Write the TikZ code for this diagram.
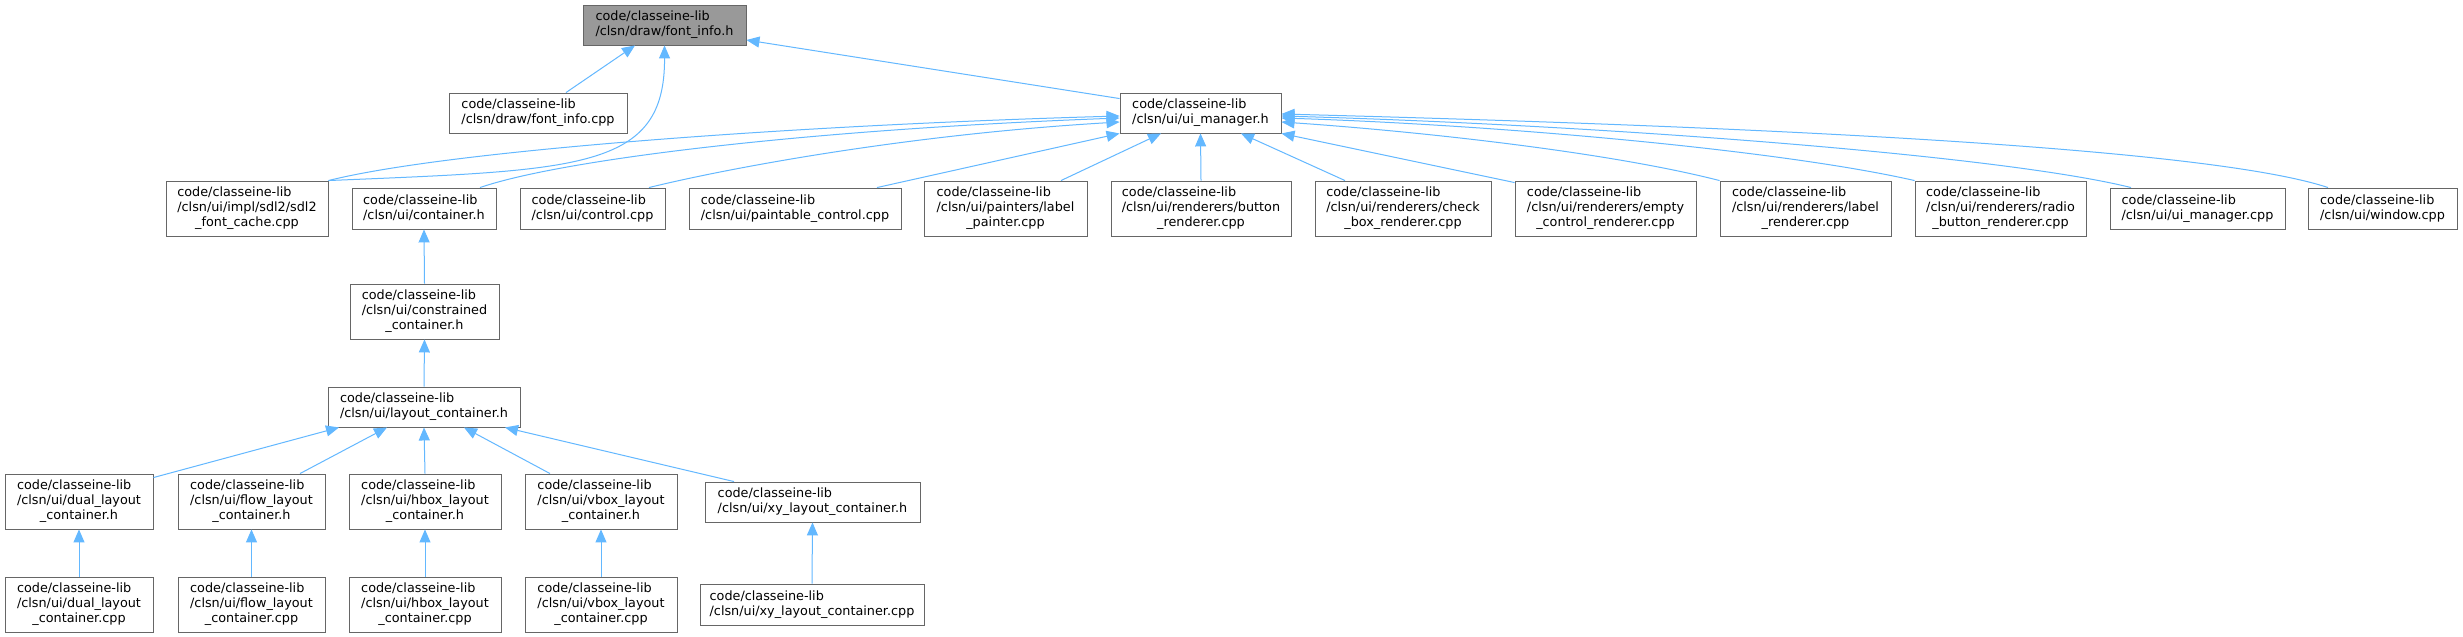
\documentclass[tikz,border=0pt]{standalone}
\usepackage{fontspec}
\setmainfont{DejaVu Sans}
\usetikzlibrary{arrows.meta}
\definecolor{edgeblue}{HTML}{63B8FF}
\definecolor{boxline}{HTML}{666666}
\definecolor{boxgray}{HTML}{999999}
% labels: first line is always the library path
\newcommand{\twolbl}[1]{\begin{tabular}{@{}l@{}}code/classeine-lib\\#1\end{tabular}}
\newcommand{\threelbl}[2]{\begin{tabular}{@{}l@{}}code/classeine-lib\\#1\\\multicolumn{1}{@{}c@{}}{#2}\end{tabular}}

\begin{document}
\begin{tikzpicture}[x=1pt,y=1pt,
    file/.style={rectangle, draw=boxline, line width=0.9pt, fill=white, inner sep=0pt,
                 font=\fontsize{12.8}{15}\selectfont, minimum height=40pt},
    tall/.style={minimum height=55pt},
    cur/.style={fill=boxgray},
    dep/.style={draw=edgeblue, line width=1pt, -{Triangle[length=13pt,width=11pt]}}]
\fill[white] (0,0) rectangle (2463,-637);
\useasboundingbox (0,0) rectangle (2463,-637);

% Text Node
\node (fih) [file, cur, minimum width=163pt] at (664.5,-25) {\twolbl{/clsn/draw/font\_info.h}};
% Text Node
\node (ficpp) [file, minimum width=178pt] at (538,-113) {\twolbl{/clsn/draw/font\_info.cpp}};
% Text Node
\node (uimh) [file, minimum width=161pt] at (1200.5,-113) {\twolbl{/clsn/ui/ui\_manager.h}};

% Text Node
\node (sdl) [file, tall, minimum width=162pt] at (247,-208.5) {\threelbl{/clsn/ui/impl/sdl2/sdl2}{\_font\_cache.cpp}};
% Text Node
\node (cont) [file, minimum width=144pt, minimum height=41pt] at (424,-208.5) {\twolbl{/clsn/ui/container.h}};
% Text Node
\node (ctrl) [file, minimum width=145pt, minimum height=41pt] at (592.5,-208.5) {\twolbl{/clsn/ui/control.cpp}};
% Text Node
\node (paint) [file, minimum width=212pt, minimum height=41pt] at (795,-208.5) {\twolbl{/clsn/ui/paintable\_control.cpp}};
% Text Node
\node (lpaint) [file, tall, minimum width=163pt] at (1005.5,-208.5) {\threelbl{/clsn/ui/painters/label}{\_painter.cpp}};
% Text Node
\node (btn) [file, tall, minimum width=180pt] at (1201,-208.5) {\threelbl{/clsn/ui/renderers/button}{\_renderer.cpp}};
% Text Node
\node (chk) [file, tall, minimum width=176pt] at (1403,-208.5) {\threelbl{/clsn/ui/renderers/check}{\_box\_renderer.cpp}};
% Text Node
\node (empty) [file, tall, minimum width=181pt] at (1605.5,-208.5) {\threelbl{/clsn/ui/renderers/empty}{\_control\_renderer.cpp}};
% Text Node
\node (lrend) [file, tall, minimum width=171pt] at (1805.5,-208.5) {\threelbl{/clsn/ui/renderers/label}{\_renderer.cpp}};
% Text Node
\node (radio) [file, tall, minimum width=171pt] at (2000.5,-208.5) {\threelbl{/clsn/ui/renderers/radio}{\_button\_renderer.cpp}};
% Text Node
\node (uimcpp) [file, minimum width=175pt, minimum height=41pt] at (2197.5,-208.5) {\twolbl{/clsn/ui/ui\_manager.cpp}};
% Text Node
\node (win) [file, minimum width=149pt, minimum height=41pt] at (2382.5,-208.5) {\twolbl{/clsn/ui/window.cpp}};

% Text Node
\node (constr) [file, tall, minimum width=149pt] at (424.5,-311.5) {\threelbl{/clsn/ui/constrained}{\_container.h}};
% Text Node
\node (layout) [file, minimum width=192pt] at (424,-407) {\twolbl{/clsn/ui/layout\_container.h}};

% Text Node
\node (dualh) [file, tall, minimum width=148pt] at (79,-501.5) {\threelbl{/clsn/ui/dual\_layout}{\_container.h}};
% Text Node
\node (flowh) [file, tall, minimum width=147pt] at (251.5,-501.5) {\threelbl{/clsn/ui/flow\_layout}{\_container.h}};
% Text Node
\node (hboxh) [file, tall, minimum width=152pt] at (425,-501.5) {\threelbl{/clsn/ui/hbox\_layout}{\_container.h}};
% Text Node
\node (vboxh) [file, tall, minimum width=152pt] at (601,-501.5) {\threelbl{/clsn/ui/vbox\_layout}{\_container.h}};
% Text Node
\node (xyh) [file, minimum width=215pt] at (812.5,-502) {\twolbl{/clsn/ui/xy\_layout\_container.h}};

% Text Node
\node (dualcpp) [file, tall, minimum width=148pt] at (79,-604.5) {\threelbl{/clsn/ui/dual\_layout}{\_container.cpp}};
% Text Node
\node (flowcpp) [file, tall, minimum width=147pt] at (251.5,-604.5) {\threelbl{/clsn/ui/flow\_layout}{\_container.cpp}};
% Text Node
\node (hboxcpp) [file, tall, minimum width=152pt] at (425,-604.5) {\threelbl{/clsn/ui/hbox\_layout}{\_container.cpp}};
% Text Node
\node (vboxcpp) [file, tall, minimum width=152pt] at (601,-604.5) {\threelbl{/clsn/ui/vbox\_layout}{\_container.cpp}};
% Text Node
\node (xycpp) [file, minimum width=224pt, minimum height=41pt] at (812,-604.5) {\twolbl{/clsn/ui/xy\_layout\_container.cpp}};

%Straight Lines: into font_info.h
\draw [dep] ([xshift=28pt]ficpp.north) -- ([xshift=-29.5pt]fih.south);
\draw [dep] (sdl.north east) .. controls (580,-170) and (665,-170) .. (fih.south);
\draw [dep] ([yshift=-6pt]uimh.north west) -- ([yshift=-15pt]fih.east);

%Curves: into ui_manager.h, left side
\draw [dep] (sdl.north east) .. controls (450,-150) and (800,-125) .. ([yshift=-3pt]uimh.west);
\draw [dep] ([xshift=56pt]cont.north) .. controls (560,-160) and (800,-130) .. ([yshift=-5pt]uimh.west);
\draw [dep] ([xshift=56.5pt]ctrl.north) .. controls (720,-170) and (900,-135) .. ([yshift=-9pt]uimh.west);
\draw [dep] ([xshift=82pt]paint.north) -- (uimh.south west);
%Straight Lines: into ui_manager.h, below
\draw [dep] ([xshift=55.5pt]lpaint.north) -- ([xshift=-39.5pt]uimh.south);
\draw [dep] (btn.north) -- (uimh.south);
\draw [dep] ([xshift=-58pt]chk.north) -- ([xshift=40.5pt]uimh.south);
\draw [dep] ([yshift=-2pt]empty.north west) -- (uimh.south east);
%Curves: into ui_manager.h, right side
\draw [dep] (lrend.north west) .. controls (1600,-150) and (1400,-130) .. ([yshift=-9pt]uimh.east);
\draw [dep] (radio.north west) .. controls (1780,-150) and (1500,-125) .. ([yshift=-5pt]uimh.east);
\draw [dep] ([xshift=-66.5pt]uimcpp.north) .. controls (2000,-155) and (1600,-125) .. ([yshift=-3pt]uimh.east);
\draw [dep] ([xshift=-54.5pt]win.north) .. controls (2200,-145) and (1700,-125) .. ([yshift=-1pt]uimh.east);

%Straight Lines: container chain
\draw [dep] (constr.north) -- (cont.south);
\draw [dep] (layout.north) -- (constr.south);
\draw [dep] ([yshift=-4pt]dualh.north east) -- ([xshift=-85pt]layout.south);
\draw [dep] ([xshift=48.5pt]flowh.north) -- ([xshift=-37pt]layout.south);
\draw [dep] (hboxh.north) -- (layout.south);
\draw [dep] ([xshift=-51pt]vboxh.north) -- ([xshift=40pt]layout.south);
\draw [dep] ([xshift=-78.5pt]xyh.north) -- ([xshift=81pt]layout.south);

%Straight Lines: sources into headers
\draw [dep] (dualcpp.north) -- (dualh.south);
\draw [dep] (flowcpp.north) -- (flowh.south);
\draw [dep] (hboxcpp.north) -- (hboxh.south);
\draw [dep] (vboxcpp.north) -- (vboxh.south);
\draw [dep] (xycpp.north) -- (xyh.south);
\end{tikzpicture}
\end{document}
